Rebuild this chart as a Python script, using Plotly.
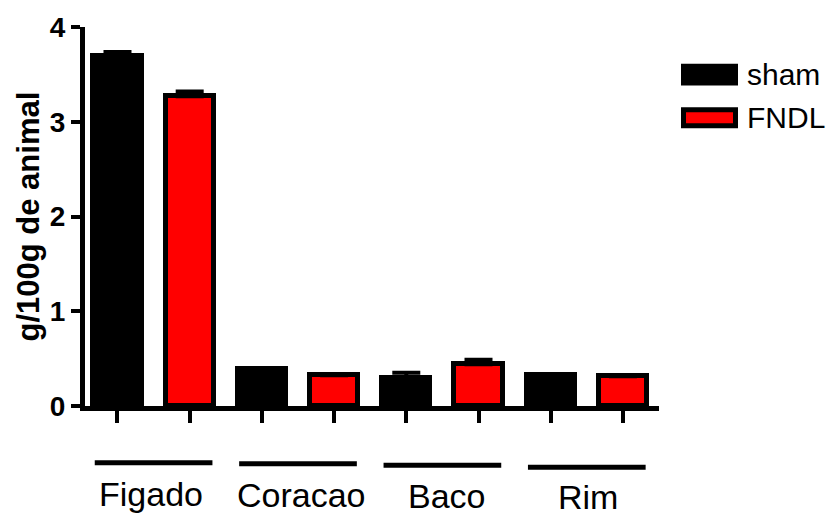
import plotly.graph_objects as go

# Organ weights relative to body weight (g/100g), mean with upper SEM
organs = ["Figado", "Coracao", "Baco", "Rim"]
sham_vals = [3.69, 0.39, 0.30, 0.325]
sham_err = [0.045, 0.01, 0.05, 0.005]
fndl_vals = [3.27, 0.325, 0.44, 0.315]
fndl_err = [0.05, 0.01, 0.047, 0.005]
y_ticks = [0, 1, 2, 3, 4]

W, H = 828, 520
ML, MR, MT, MB = 85, 169, 24, 114
PW, PH = W - ML - MR, H - MT - MB
FONT = "Arial, Liberation Sans, sans-serif"


def px_x(px):
    return (px - ML) / PW


def px_y(py):
    return 1 - (py - MT) / PH


sham_x = [2 * i for i in range(len(organs))]
fndl_x = [2 * i + 1 for i in range(len(organs))]

fig = go.Figure()
fig.add_trace(go.Bar(
    x=sham_x, y=sham_vals, width=0.665, name="sham",
    marker=dict(color="black", line=dict(color="black", width=5)),
    error_y=dict(type="data", array=sham_err, arrayminus=[0] * 4,
                 symmetric=False, color="black", thickness=4, width=14),
))
fig.add_trace(go.Bar(
    x=fndl_x, y=fndl_vals, width=0.665, name="FNDL",
    marker=dict(color="#ff0000", line=dict(color="black", width=5)),
    error_y=dict(type="data", array=fndl_err, arrayminus=[0] * 4,
                 symmetric=False, color="black", thickness=4, width=14),
))

shapes = []
annotations = []

# group underlines and organ names below the axis
line_py = [463.3, 464.3, 465.7, 467.7]
label_py = [495, 495.5, 497, 497.5]
label_dx = [-3, 4, 5, 1]
for g, name in enumerate(organs):
    c = 2 * g + 0.5
    shapes.append(dict(type="line", xref="x", yref="paper",
                       x0=c - 0.815, x1=c + 0.815,
                       y0=px_y(line_py[g]), y1=px_y(line_py[g]),
                       line=dict(color="black", width=5)))
    annotations.append(dict(text=name, xref="x", yref="paper", x=c,
                            y=px_y(label_py[g]), xshift=label_dx[g],
                            xanchor="center", yanchor="middle", showarrow=False,
                            font=dict(family=FONT, size=34, color="black")))

# y-axis title
annotations.append(dict(text="g/100g de animal", xref="paper", yref="paper",
                        x=px_x(28), y=0.5, textangle=-90,
                        xanchor="center", yanchor="middle", showarrow=False,
                        font=dict(family=FONT, size=31, color="black", weight="bold")))

# legend
shapes.append(dict(type="rect", xref="paper", yref="paper",
                   x0=px_x(681), x1=px_x(738), y0=px_y(83), y1=px_y(61),
                   fillcolor="black", line=dict(width=0)))
shapes.append(dict(type="rect", xref="paper", yref="paper",
                   x0=px_x(683.5), x1=px_x(735.5), y0=px_y(123.5), y1=px_y(107.5),
                   fillcolor="#ff0000", line=dict(color="black", width=5)))
for txt, py in [("sham", 72), ("FNDL", 115.5)]:
    annotations.append(dict(text=txt, xref="paper", yref="paper",
                            x=px_x(745), y=px_y(py), xanchor="left", yanchor="middle",
                            showarrow=False,
                            font=dict(family=FONT, size=30, color="black")))

fig.update_layout(
    width=W, height=H,
    margin=dict(l=ML, r=MR, t=MT, b=MB),
    paper_bgcolor="white", plot_bgcolor="white",
    barmode="overlay", bargap=0, showlegend=False,
    shapes=shapes, annotations=annotations,
    font=dict(family=FONT, color="black"),
)
fig.update_xaxes(
    range=[-0.45, 7.5], tickvals=list(range(8)), showticklabels=False,
    showline=True, linecolor="black", linewidth=5,
    ticks="outside", ticklen=12, tickwidth=4, tickcolor="black",
    showgrid=False, zeroline=False,
)
fig.update_yaxes(
    range=[0, 4], tickvals=y_ticks, ticktext=[str(t) for t in y_ticks],
    showline=True, linecolor="black", linewidth=5,
    ticks="outside", ticklen=9, tickwidth=4, tickcolor="black",
    tickfont=dict(family=FONT, size=28, color="black", weight="bold"),
    showgrid=False, zeroline=False,
)

fig.write_html("out.html")
